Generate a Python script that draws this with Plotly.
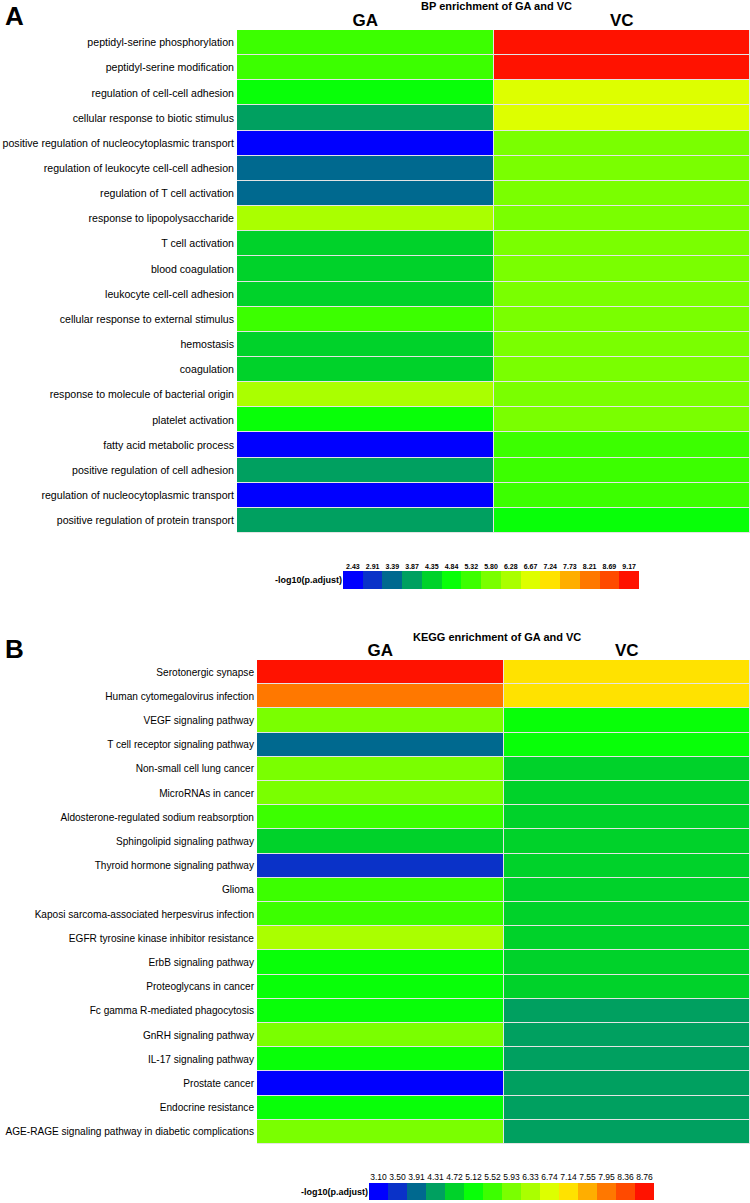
import plotly.graph_objects as go

# -log10(p.adjust) values
bp_terms = [
    "peptidyl-serine phosphorylation", "peptidyl-serine modification",
    "regulation of cell-cell adhesion", "cellular response to biotic stimulus",
    "positive regulation of nucleocytoplasmic transport",
    "regulation of leukocyte cell-cell adhesion", "regulation of T cell activation",
    "response to lipopolysaccharide", "T cell activation", "blood coagulation",
    "leukocyte cell-cell adhesion", "cellular response to external stimulus",
    "hemostasis", "coagulation", "response to molecule of bacterial origin",
    "platelet activation", "fatty acid metabolic process",
    "positive regulation of cell adhesion", "regulation of nucleocytoplasmic transport",
    "positive regulation of protein transport",
]
bp_ga = [5.32, 5.32, 4.84, 3.87, 2.43, 3.39, 3.39, 6.28, 4.35, 4.35,
         4.35, 5.32, 4.35, 4.35, 6.28, 4.84, 2.43, 3.87, 2.43, 3.87]
bp_vc = [9.17, 9.17, 6.67, 6.67, 5.80, 5.80, 5.80, 5.80, 5.80, 5.80,
         5.80, 5.80, 5.80, 5.80, 5.80, 5.80, 5.32, 5.32, 5.32, 4.84]
bp_ticks = [2.43, 2.91, 3.39, 3.87, 4.35, 4.84, 5.32, 5.80, 6.28, 6.67,
            7.24, 7.73, 8.21, 8.69, 9.17]

kegg_terms = [
    "Serotonergic synapse", "Human cytomegalovirus infection",
    "VEGF signaling pathway", "T cell receptor signaling pathway",
    "Non-small cell lung cancer", "MicroRNAs in cancer",
    "Aldosterone-regulated sodium reabsorption", "Sphingolipid signaling pathway",
    "Thyroid hormone signaling pathway", "Glioma",
    "Kaposi sarcoma-associated herpesvirus infection",
    "EGFR tyrosine kinase inhibitor resistance", "ErbB signaling pathway",
    "Proteoglycans in cancer", "Fc gamma R-mediated phagocytosis",
    "GnRH signaling pathway", "IL-17 signaling pathway", "Prostate cancer",
    "Endocrine resistance", "AGE-RAGE signaling pathway in diabetic complications",
]
kegg_ga = [8.76, 7.95, 5.93, 3.91, 5.93, 5.93, 5.52, 4.72, 3.50, 5.52,
           5.52, 6.33, 5.12, 5.12, 5.12, 5.93, 5.12, 3.10, 5.12, 5.93]
kegg_vc = [7.14, 7.14, 5.12, 5.12, 4.72, 4.72, 4.72, 4.72, 4.72, 4.72,
           4.72, 4.72, 4.72, 4.72, 4.31, 4.31, 4.31, 4.31, 4.31, 4.31]
kegg_ticks = [3.10, 3.50, 3.91, 4.31, 4.72, 5.12, 5.52, 5.93, 6.33, 6.74,
              7.14, 7.55, 7.95, 8.36, 8.76]

groups = ["GA", "VC"]

bins = ["#0000FF", "#0A32C8", "#00698F", "#00A060", "#00D22A", "#08FF08", "#3CFF00",
        "#7AFF00", "#AAFF00", "#DDFF00", "#FFE200", "#FFAE00", "#FF7800", "#FF4A00",
        "#FF1200"]

# stepped colour scale, one flat band per legend box
n = len(bins)
scale = []
for i, c in enumerate(bins):
    scale.append([i / n, c])
    scale.append([(i + 1) / n, c])

W, H = 750, 1203
def py(px):
    return 1 - px / H

def rng(ticks):
    step = (ticks[-1] - ticks[0]) / (len(ticks) - 1)
    return ticks[0] - step / 2, ticks[-1] + step / 2

FONT = "Liberation Sans, Arial, sans-serif"
NARROW = "Liberation Sans Narrow, Liberation Sans, Arial, sans-serif"

fig = go.Figure()

# panel A heatmap
z_a = [[g, v] for g, v in zip(bp_ga, bp_vc)]
fig.add_trace(go.Heatmap(z=z_a, x=groups, y=bp_terms, coloraxis="coloraxis",
                         xgap=1, ygap=1, hoverinfo="skip", xaxis="x", yaxis="y"))
# panel A legend
fig.add_trace(go.Heatmap(z=[bp_ticks], x=list(range(n)), y=["-log10(p.adjust)"],
                         coloraxis="coloraxis", hoverinfo="skip", xaxis="x2", yaxis="y2"))
# panel B heatmap
z_b = [[g, v] for g, v in zip(kegg_ga, kegg_vc)]
fig.add_trace(go.Heatmap(z=z_b, x=groups, y=kegg_terms, coloraxis="coloraxis2",
                         xgap=1, ygap=1, hoverinfo="skip", xaxis="x3", yaxis="y3"))
# panel B legend
fig.add_trace(go.Heatmap(z=[kegg_ticks], x=list(range(n)), y=["-log10(p.adjust)"],
                         coloraxis="coloraxis2", hoverinfo="skip", xaxis="x4", yaxis="y4"))

za0, za1 = rng(bp_ticks)
zb0, zb1 = rng(kegg_ticks)

main_x = dict(side="top", showgrid=False, zeroline=False, ticks="", showline=False,
              automargin=False, tickvals=groups, ticktext=["<b>GA</b>", "<b>VC</b>"],
              tickfont=dict(family=NARROW, size=17, color="black"))
main_y = dict(autorange="reversed", showgrid=False, zeroline=False, ticks="",
              automargin=False, ticklabelstandoff=2)
leg_x = dict(side="top", ticks="", showgrid=False, zeroline=False, automargin=False,
             tickangle=0, tickvals=list(range(n)))
leg_y = dict(ticks="", showgrid=False, automargin=False,
             tickvals=["-log10(p.adjust)"], ticktext=["<b>-log10(p.adjust)</b>"],
             tickfont=dict(family=NARROW, size=9, color="black"))

fig.update_layout(
    width=W, height=H,
    margin=dict(l=0, r=0, t=0, b=0),
    paper_bgcolor="white", plot_bgcolor="#e4e4e4",
    coloraxis=dict(colorscale=scale, cmin=za0, cmax=za1, showscale=False),
    coloraxis2=dict(colorscale=scale, cmin=zb0, cmax=zb1, showscale=False),
    xaxis=dict(domain=[237 / W, 1.0], anchor="y", **main_x),
    yaxis=dict(domain=[py(533), py(30)], anchor="x",
               tickfont=dict(family=FONT, size=10.6, color="black"), **main_y),
    xaxis2=dict(domain=[343 / W, 639 / W], anchor="y2",
                ticktext=["<b>%.2f</b>" % t for t in bp_ticks],
                tickfont=dict(family=NARROW, size=7, color="black"), **leg_x),
    yaxis2=dict(domain=[py(589), py(571)], anchor="x2", **leg_y),
    xaxis3=dict(domain=[257 / W, 1.0], anchor="y3", **main_x),
    yaxis3=dict(domain=[py(1144), py(660)], anchor="x3",
                tickfont=dict(family=FONT, size=10.1, color="black"), **main_y),
    xaxis4=dict(domain=[369 / W, 654 / W], anchor="y4",
                ticktext=["%.2f" % t for t in kegg_ticks],
                tickfont=dict(family=NARROW, size=8.5, color="black"), **leg_x),
    yaxis4=dict(domain=[py(1200), py(1183)], anchor="x4", **leg_y),
)

ann = [
    ("<b>A</b>", 14 / W, py(16), 26, FONT),
    ("<b>B</b>", 14 / W, py(649), 26, FONT),
    ("<b>BP enrichment of GA and VC</b>", 497 / W, py(6), 11, NARROW),
    ("<b>KEGG enrichment of GA and VC</b>", 497 / W, py(637), 11, NARROW),
]
for text, x, y, size, fam in ann:
    fig.add_annotation(text=text, x=x, y=y, xref="paper", yref="paper",
                       showarrow=False, xanchor="center", yanchor="middle",
                       font=dict(family=fam, size=size, color="black"))

# drop the page's default body margin so the figure sits at the window corner
fig.write_html("out.html", config={"displayModeBar": False},
               post_script="document.body.style.margin='0';document.body.style.overflow='hidden';")
